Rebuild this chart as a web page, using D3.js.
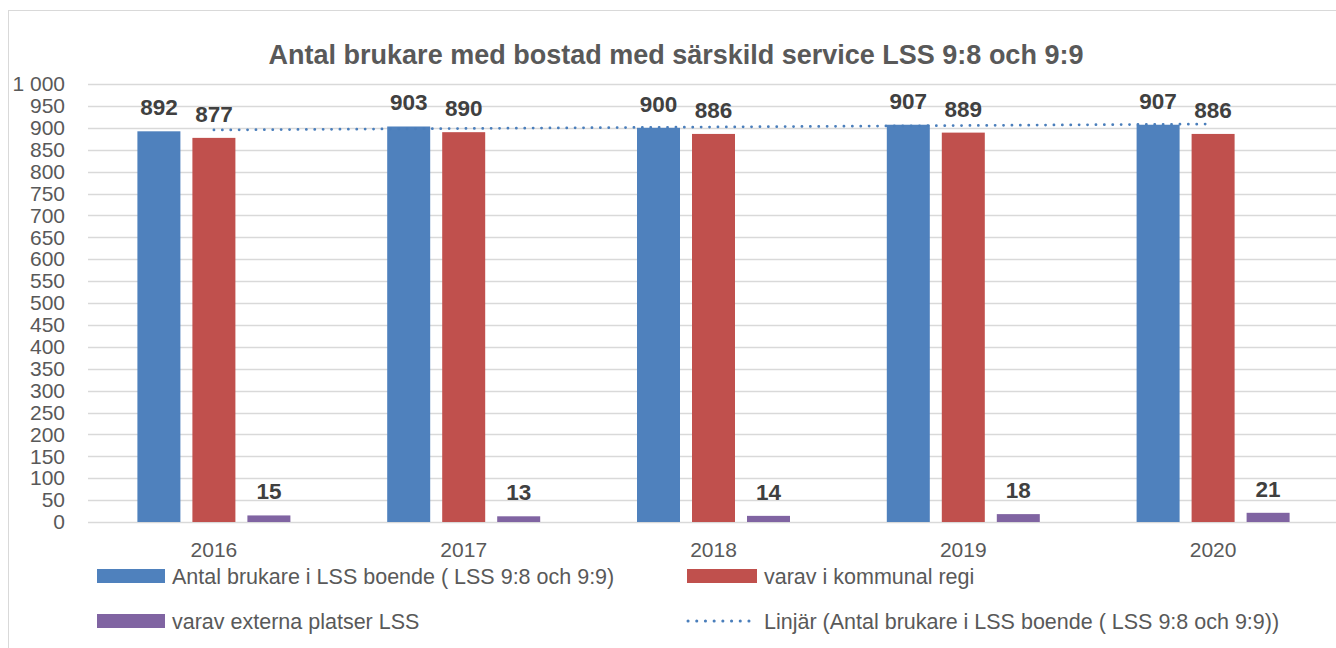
<!DOCTYPE html>
<html>
<head>
<meta charset="utf-8">
<script src="https://cdn.jsdelivr.net/npm/d3@7"></script>
<style>
    body { margin: 0; background: #fff; }
    svg text { font-family: "Liberation Sans", Arial, sans-serif; }
</style>
</head>
<body>
<div id="chart"></div>
<script>
const years = ["2016", "2017", "2018", "2019", "2020"];
const totalUsers = [892, 903, 900, 907, 907];
const municipal = [877, 890, 886, 889, 886];
const external = [15, 13, 14, 18, 21];
const yTicks = [0, 50, 100, 150, 200, 250, 300, 350, 400, 450, 500, 550, 600, 650, 700, 750, 800, 850, 900, 950, 1000];

const seriesNames = [
    "Antal brukare i LSS boende ( LSS 9:8 och 9:9)",
    "varav i kommunal regi",
    "varav externa platser LSS"
];
const trendName = "Linjär (Antal brukare i LSS boende ( LSS 9:8 och 9:9))";
const colors = ["#4F81BD", "#C0504D", "#8064A2"];

const width = 1336, height = 648;

const svg = d3.select("#chart")
    .append("svg")
    .attr("width", width)
    .attr("height", height);

// chart border
svg.append("rect")
    .attr("x", 8.5).attr("y", 10.5)
    .attr("width", 1340).attr("height", 660)
    .attr("fill", "none")
    .attr("stroke", "#D9D9D9");

svg.append("text")
    .attr("x", 676).attr("y", 64)
    .attr("text-anchor", "middle")
    .attr("font-size", 27)
    .attr("font-weight", "bold")
    .attr("fill", "#595959")
    .text("Antal brukare med bostad med särskild service LSS 9:8 och 9:9");

const xScale = d3.scaleBand()
    .domain(years)
    .range([89, 1338]);

const yScale = d3.scaleLinear()
    .domain([0, 1000])
    .range([522, 84]);

// gridlines
svg.append("g")
    .selectAll("line")
    .data(yTicks)
    .enter()
    .append("line")
    .attr("x1", 88).attr("x2", 1336)
    .attr("y1", d => Math.round(yScale(d)) + 0.5)
    .attr("y2", d => Math.round(yScale(d)) + 0.5)
    .attr("stroke", "#D9D9D9")
    .attr("stroke-width", 1.3);

// y axis labels
const yAxis = d3.axisLeft(yScale)
    .tickValues(yTicks)
    .tickSize(0)
    .tickPadding(0)
    .tickFormat(d => d === 1000 ? "1 000" : d);

svg.append("g")
    .attr("transform", "translate(65,0)")
    .call(yAxis)
    .call(g => g.select(".domain").remove())
    .selectAll("text")
    .attr("font-size", 21)
    .attr("fill", "#595959")
    .attr("font-family", "Liberation Sans, Arial, sans-serif");

// x axis labels
const xAxis = d3.axisBottom(xScale).tickSize(0).tickPadding(0);
svg.append("g")
    .attr("transform", "translate(0,542)")
    .call(xAxis)
    .call(g => g.select(".domain").remove())
    .selectAll("text")
    .attr("font-size", 21)
    .attr("fill", "#595959")
    .attr("font-family", "Liberation Sans, Arial, sans-serif");

const barW = 43, gap = 12;
const series = [totalUsers, municipal, external];

series.forEach((values, s) => {
    const offset = (s - 1) * (barW + gap);
    const g = svg.append("g");
    g.selectAll("rect")
        .data(values)
        .enter()
        .append("rect")
        .attr("x", (d, i) => xScale(years[i]) + xScale.bandwidth() / 2 + offset - barW / 2)
        .attr("y", d => yScale(d))
        .attr("width", barW)
        .attr("height", d => yScale(0) - yScale(d))
        .attr("fill", colors[s]);

    g.selectAll("text")
        .data(values)
        .enter()
        .append("text")
        .attr("x", (d, i) => xScale(years[i]) + xScale.bandwidth() / 2 + offset)
        .attr("y", d => yScale(d) - 16)
        .attr("text-anchor", "middle")
        .attr("font-size", 22.5)
        .attr("font-weight", "bold")
        .attr("fill", "#404040")
        .text(d => d);
});

// linear trendline for total users
const n = totalUsers.length;
const xs = d3.range(n);
const mx = d3.mean(xs), my = d3.mean(totalUsers);
const slope = d3.sum(xs, i => (i - mx) * (totalUsers[i] - my)) / d3.sum(xs, i => (i - mx) * (i - mx));
const intercept = my - slope * mx;

const trendLine = d3.line()
    .x(i => xScale(years[i]) + xScale.bandwidth() / 2)
    .y(i => yScale(intercept + slope * i));

svg.append("path")
    .datum([0, n - 1])
    .attr("d", trendLine)
    .attr("fill", "none")
    .attr("stroke", "#4A7EBB")
    .attr("stroke-width", 2.75)
    .attr("stroke-linecap", "round")
    .attr("stroke-dasharray", "0.1 8.3");

// legend
const legendItems = [
    { name: seriesNames[0], color: colors[0], x: 97, w: 68, y: 576, type: "rect" },
    { name: seriesNames[1], color: colors[1], x: 687, w: 70, y: 576, type: "rect" },
    { name: seriesNames[2], color: colors[2], x: 97, w: 68, y: 621, type: "rect" },
    { name: trendName, color: "#4A7EBB", x: 687, w: 70, y: 621, type: "line" }
];

const legend = svg.append("g");
legendItems.forEach(item => {
    if (item.type === "rect") {
        legend.append("rect")
            .attr("x", item.x).attr("y", item.y - 7)
            .attr("width", item.w).attr("height", 14)
            .attr("fill", item.color);
    } else {
        legend.append("line")
            .attr("x1", item.x + 1).attr("x2", item.x + item.w)
            .attr("y1", item.y).attr("y2", item.y)
            .attr("stroke", item.color)
            .attr("stroke-width", 3)
            .attr("stroke-linecap", "round")
            .attr("stroke-dasharray", "0.1 8.6");
    }
    legend.append("text")
        .attr("x", item.x + item.w + 7)
        .attr("y", item.y + 7.5)
        .attr("font-size", 21.5)
        .attr("fill", "#595959")
        .text(item.name);
});
</script>
</body>
</html>
